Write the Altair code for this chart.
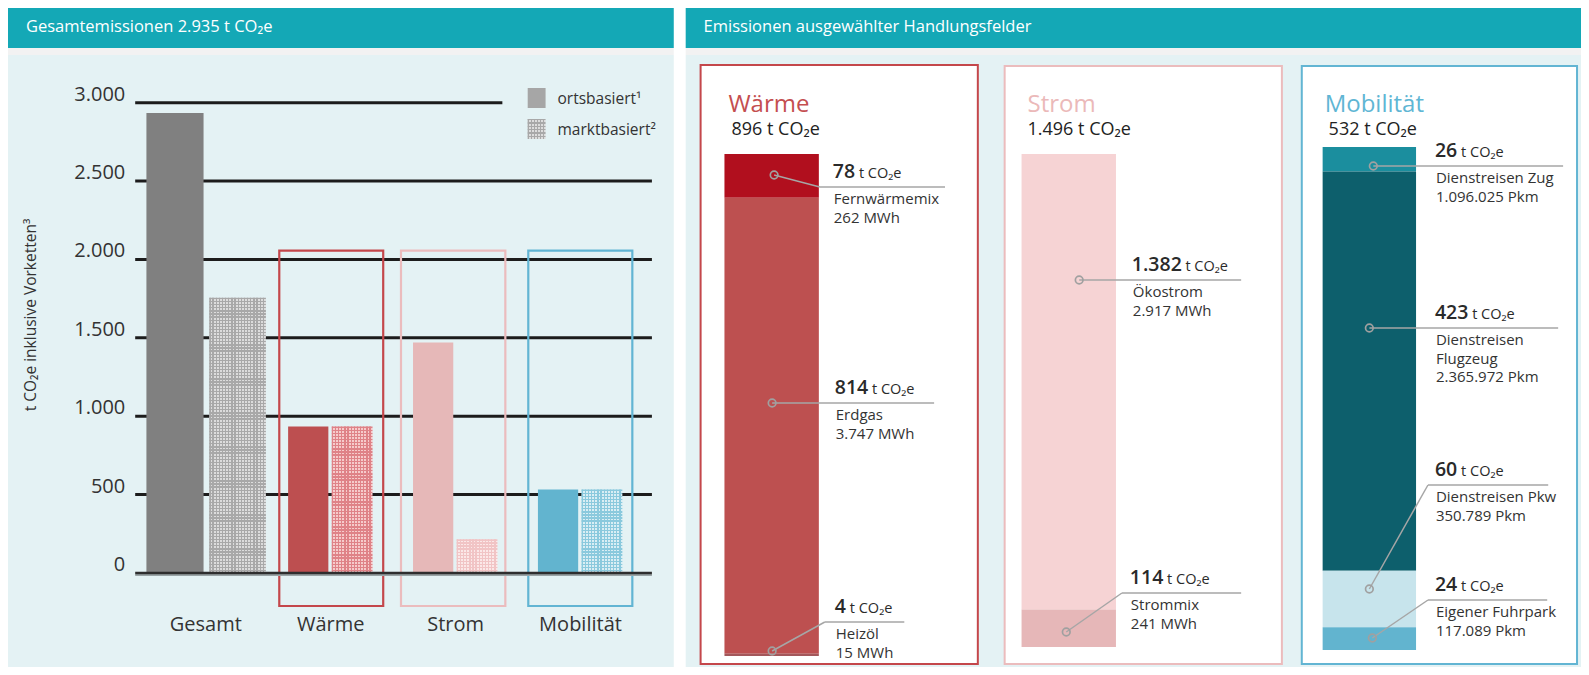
import altair as alt
import pandas as pd

# ---------------- data ----------------
HEADER_LEFT = "Gesamtemissionen 2.935 t CO₂e"
HEADER_RIGHT = "Emissionen ausgewählter Handlungsfelder"

CATEGORIES = ["Gesamt", "Wärme", "Strom", "Mobilität"]
ORTSBASIERT = [2935, 935, 1470, 532]
MARKTBASIERT = [1755, 935, 215, 532]
SERIES_LABELS = ["ortsbasiert¹", "marktbasiert²"]
Y_TICKS = [0, 500, 1000, 1500, 2000, 2500, 3000]
Y_TICK_LABELS = ["0", "500", "1.000", "1.500", "2.000", "2.500", "3.000"]
Y_TITLE = "t CO₂e inklusive Vorketten³"

PANELS = ["Wärme", "Strom", "Mobilität"]
PANEL_TOTAL_LABELS = ["896 t CO₂e", "1.496 t CO₂e", "532 t CO₂e"]

SEG_PANEL = ["Wärme", "Wärme", "Wärme", "Strom", "Strom",
             "Mobilität", "Mobilität", "Mobilität", "Mobilität"]
SEG_NAMES = ["Fernwärmemix", "Erdgas", "Heizöl", "Ökostrom", "Strommix",
             "Dienstreisen Zug", "Dienstreisen Flugzeug", "Dienstreisen Pkw", "Eigener Fuhrpark"]
SEG_VALUES = [78, 814, 4, 1382, 114, 26, 423, 60, 24]
SEG_VALUE_LABELS = ["78", "814", "4", "1.382", "114", "26", "423", "60", "24"]
SEG_TEXT = ["Fernwärmemix\n262 MWh", "Erdgas\n3.747 MWh", "Heizöl\n15 MWh",
            "Ökostrom\n2.917 MWh", "Strommix\n241 MWh",
            "Dienstreisen Zug\n1.096.025 Pkm", "Dienstreisen\nFlugzeug\n2.365.972 Pkm",
            "Dienstreisen Pkw\n350.789 Pkm", "Eigener Fuhrpark\n117.089 Pkm"]
UNIT = "t CO₂e"

# ---------------- style ----------------
FONT = "Open Sans"
TEAL = "#14a8b6"
BODY = "#e4f2f4"
STRIP = "#f2f2f2"
TEXT = "#333333"
GRID = "#1c1c1c"
ORTS_COLORS = ["#808080", "#bd4f50", "#e6b8b8", "#62b4cf"]
HATCH_LINE = ["#a8a8a8", "#df8287", "#f1c4c5", "#8ac9dd"]
HATCH_GAP = ["#dcdcdc", "#f6cbcb", "#fbe8e8", "#d9eef4"]
FRAME_COLORS = ["#c4474b", "#ebbcbd", "#62b5d3"]
SEG_COLORS = ["#b10f1e", "#bd5050", "#a3585b", "#f6d3d4", "#e6b7b8",
              "#1b8e9e", "#0d5f6c", "#c7e4ec", "#62b4cf"]
TITLE_COLORS = ["#c44e50", "#ebb9b9", "#5fb6d4"]
LEADER = "#a6a6a6"

# ---------------- layout (reference pixel coordinates) ----------------
W, H = 1573, 659
KX = W / 1583.0


def PX(rx):
    return round((rx - 6) * KX, 2)


def PY(ry):
    return ry - 8


ONE = pd.DataFrame({"k": [0]})
layers = []


def rect(x1, y1, x2, y2, **kw):
    return alt.Chart(ONE).mark_rect(**kw).encode(
        x=alt.value(max(0, PX(x1))), x2=alt.value(min(W, PX(x2))),
        y=alt.value(max(0, PY(y1))), y2=alt.value(min(H, PY(y2))))


def rule(x1, y1, x2, y2, color=LEADER, width=1.5):
    return alt.Chart(ONE).mark_rule(color=color, strokeWidth=width).encode(
        x=alt.value(PX(x1)), x2=alt.value(PX(x2)), y=alt.value(PY(y1)), y2=alt.value(PY(y2)))


def label(x, y, s, size, color=TEXT, align="left", baseline="alphabetic",
          weight="normal", angle=None, line_height=None):
    kw = dict(align=align, baseline=baseline, fontSize=size, color=color,
              font=FONT, fontWeight=weight)
    if angle is not None:
        kw["angle"] = angle
    if line_height is not None:
        kw["lineBreak"] = "\n"
        kw["lineHeight"] = line_height
    return alt.Chart(ONE).mark_text(**kw).encode(
        x=alt.value(PX(x)), y=alt.value(PY(y)), text=alt.value(s))


def stripes(length, period, lw, c_line, c_gap):
    n = max(1, int(round(length / period)))
    step = 1.0 / n
    f = min(lw / max(length, 1e-6), step * 0.9)
    stops = []
    for k in range(n):
        a = k * step
        b = a + f
        stops += [(a, c_line), (b, c_line), (b, c_gap), (a + step, c_gap)]
    return [alt.GradientStop(color=c, offset=round(min(o, 1.0), 5)) for o, c in stops]


def hatch_fills(w, h, line, gap):
    horiz = alt.LinearGradient(gradient="linear", x1=0, x2=0, y1=0, y2=1,
                               stops=stripes(h, 3.1, 1.3, line, gap))
    vert = alt.LinearGradient(gradient="linear", x1=0, x2=1, y1=0, y2=0,
                              stops=stripes(w, 3.1, 1.3, line, "rgba(255,255,255,0)"))
    return horiz, vert


# ---------------- backgrounds & headers ----------------
for (xa, xb) in [(6, 676), (688, 1589)]:
    layers.append(rect(xa, 0, xb, 48, color=TEAL))
    layers.append(rect(xa, 48, xb, 55, color=STRIP))
    layers.append(rect(xa, 55, xb, 675, color=BODY))
layers.append(label(24, 27, HEADER_LEFT, 16.5, color="white", baseline="middle"))
layers.append(label(706, 27, HEADER_RIGHT, 16.5, color="white", baseline="middle"))

# ---------------- left chart ----------------
Y0_PX, Y3000_PX = 573, 102.7
pxu = (Y0_PX - Y3000_PX) / 3000.0
ys = alt.Scale(domain=[0, 3000], range=[PY(Y0_PX), PY(Y3000_PX)], nice=False, zero=True)
xs = alt.Scale(domain=CATEGORIES, range=[PX(142.2), PX(645)], paddingInner=0, paddingOuter=0)

left_df = pd.DataFrame({"cat": CATEGORIES, "idx": list(range(len(CATEGORIES))),
                        "orts": ORTSBASIERT, "markt": MARKTBASIERT})
grid_df = pd.DataFrame({"v": Y_TICKS, "lab": Y_TICK_LABELS})

grid = alt.Chart(grid_df)
layers.append(grid.transform_filter("datum.v > 0 && datum.v < 3000").mark_rule(
    color=GRID, strokeWidth=3).encode(
    y=alt.Y("v:Q", scale=ys, axis=None), x=alt.value(PX(134)), x2=alt.value(PX(654))))
layers.append(grid.transform_filter("datum.v == 3000").mark_rule(
    color=GRID, strokeWidth=3).encode(
    y=alt.Y("v:Q", scale=ys, axis=None), x=alt.value(PX(134)), x2=alt.value(PX(503.5))))
layers.append(grid.mark_text(align="right", baseline="middle", fontSize=20, font=FONT,
                             color=TEXT, dy=-8).encode(
    y=alt.Y("v:Q", scale=ys, axis=None), x=alt.value(PX(124)), text="lab:N"))

# group frames
FRAMES = [(279, 383.6), (401.5, 506.5), (529.6, 634.3)]
for (xa, xb), col in zip(FRAMES, FRAME_COLORS):
    layers.append(rect(xa, 250.7, xb, 606, fillOpacity=0, stroke=col, strokeWidth=2.2))

# bars
BAR_W = {"Gesamt": (57.5, 57.0, -31.0, 32.0)}
OTHER = (40.5, 41.0, -22.6, 21.6)
color_scale = alt.Scale(domain=CATEGORIES, range=ORTS_COLORS)
for i, cat in enumerate(CATEGORIES):
    wo, wm, oo, om = BAR_W.get(cat, OTHER)
    base = alt.Chart(left_df).transform_filter(f"datum.idx == {i}")
    layers.append(base.mark_bar(size=wo * KX, xOffset=oo * KX).encode(
        x=alt.X("cat:N", scale=xs, axis=None),
        y=alt.Y("orts:Q", scale=ys, axis=None),
        color=alt.Color("cat:N", scale=color_scale, legend=None)))
    hz, vt = hatch_fills(wm * KX, MARKTBASIERT[i] * pxu, HATCH_LINE[i], HATCH_GAP[i])
    for fill in (hz, vt):
        layers.append(base.mark_bar(size=wm * KX, xOffset=om * KX, fill=fill).encode(
            x=alt.X("cat:N", scale=xs, axis=None),
            y=alt.Y("markt:Q", scale=ys, axis=None)))

# zero line (with faint shadow)
layers.append(grid.transform_filter("datum.v == 0").mark_rule(
    color="#9aa4a6", strokeWidth=2, yOffset=2).encode(
    y=alt.Y("v:Q", scale=ys, axis=None), x=alt.value(PX(134)), x2=alt.value(PX(654))))
layers.append(grid.transform_filter("datum.v == 0").mark_rule(
    color="#2e2e2e", strokeWidth=2.5).encode(
    y=alt.Y("v:Q", scale=ys, axis=None), x=alt.value(PX(134)), x2=alt.value(PX(654))))

# category labels
layers.append(alt.Chart(left_df).mark_text(fontSize=20, font=FONT, color=TEXT,
                                           baseline="alphabetic").encode(
    x=alt.X("cat:N", scale=xs, axis=None), y=alt.value(PY(631)), text="cat:N"))

# legend
layers.append(rect(529, 88, 547, 108, color="#a6a6a6"))
hz, vt = hatch_fills(18, 20, HATCH_LINE[0], HATCH_GAP[0])
for fill in (hz, vt):
    layers.append(rect(529, 119, 547, 139, fill=fill))
layers.append(label(559, 104, SERIES_LABELS[0], 15.5))
layers.append(label(559, 135, SERIES_LABELS[1], 15.5))

# y title
layers.append(label(29, 315, Y_TITLE, 15.5, align="center", baseline="middle", angle=270))

# ---------------- right panels ----------------
BOXES = [(703, 65, 982, 664), (1009, 66, 1288, 664), (1308, 66, 1585, 664)]
TITLE_X = [731, 1032, 1331]
TOTAL_X = [734, 1032, 1335]
BAR_X = [(727, 822), (1026, 1121), (1329, 1423)]
BAR_Y = [(656, 154), (647, 154), (650, 147)]

seg_df = pd.DataFrame({"panel": SEG_PANEL, "seg": SEG_NAMES, "val": SEG_VALUES,
                       "order": list(range(len(SEG_NAMES)))})
seg_color = alt.Scale(domain=SEG_NAMES, range=SEG_COLORS)

for p, panel in enumerate(PANELS):
    bx1, by1, bx2, by2 = BOXES[p]
    layers.append(rect(bx1, by1, bx2, by2, color="white", stroke=FRAME_COLORS[p], strokeWidth=2))
    layers.append(label(TITLE_X[p], 112, panel, 24, color=TITLE_COLORS[p]))
    layers.append(label(TOTAL_X[p], 135, PANEL_TOTAL_LABELS[p], 18, color="#222222"))
    total = sum(v for v, pn in zip(SEG_VALUES, SEG_PANEL) if pn == panel)
    yscale = alt.Scale(domain=[0, total], range=[PY(BAR_Y[p][0]), PY(BAR_Y[p][1])],
                       nice=False, zero=True)
    layers.append(alt.Chart(seg_df).transform_filter(
        alt.datum.panel == panel).transform_stack(
        stack="val", groupby=["panel"], as_=["y0", "y1"],
        sort=[alt.SortField("order", order="descending")]).mark_rect().encode(
        x=alt.value(PX(BAR_X[p][0])), x2=alt.value(PX(BAR_X[p][1])),
        y=alt.Y("y0:Q", scale=yscale, axis=None), y2="y1:Q",
        color=alt.Color("seg:N", scale=seg_color, legend=None)))

# annotations
ANN = [
    dict(dot=(777, 175), elbow=(823, 187), end=949, lx=836),
    dict(dot=(775, 403), end=938, lx=838),
    dict(dot=(775, 651), elbow=(828, 622), end=908, lx=838),
    dict(dot=(1084, 280), end=1247, lx=1137),
    dict(dot=(1071, 632), elbow=(1127, 593), end=1247, lx=1135),
    dict(dot=(1380, 166), end=1571, lx=1442),
    dict(dot=(1376, 328), end=1566, lx=1442),
    dict(dot=(1376, 589), elbow=(1435, 485), end=1556, lx=1442),
    dict(dot=(1379, 638), elbow=(1435, 600), end=1555, lx=1442),
]


def num_width(s, size):
    return sum(0.27 * size if ch == "." else 0.572 * size for ch in s)


for i, a in enumerate(ANN):
    dx, dy = a["dot"]
    if "elbow" in a:
        ex, ey = a["elbow"]
        layers.append(rule(dx, dy, ex, ey))
    else:
        ex, ey = dx, dy
    layers.append(rule(ex, ey, a["end"], ey))
    layers.append(alt.Chart(ONE).mark_point(shape="circle", filled=False, size=58,
                                            strokeWidth=1.7, color="#a0a0a0", opacity=1).encode(
        x=alt.value(PX(dx)), y=alt.value(PY(dy))))
    lx = a["lx"]
    num = SEG_VALUE_LABELS[i]
    layers.append(label(lx, ey - 9, num, 19.5, color="#2a2a2a", weight=600))
    layers.append(label(lx + num_width(num, 19.5) + 4, ey - 9, UNIT, 14.5, color="#2a2a2a"))
    layers.append(label(lx + 1, ey + 17, SEG_TEXT[i], 15, line_height=18.5))

chart = alt.layer(*layers).resolve_scale(
    x="independent", y="independent", color="independent"
).properties(
    width=W, height=H, padding=0,
    autosize=alt.AutoSizeParams(type="none"), background="white"
).configure_view(stroke=None)

chart.save("out.html", embed_options={"renderer": "svg", "actions": False})
